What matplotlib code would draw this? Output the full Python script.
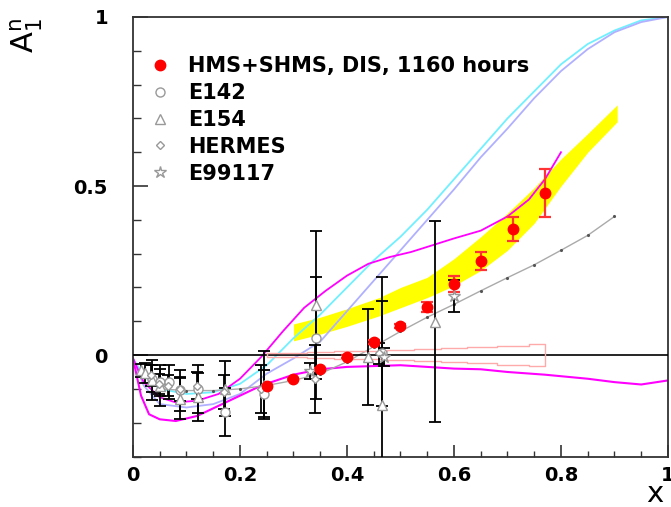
import matplotlib
matplotlib.use("Agg")
import matplotlib.pyplot as plt
from matplotlib.ticker import MultipleLocator, FuncFormatter

# projected HMS+SHMS A1n points
hms_x = [0.25, 0.30, 0.35, 0.40, 0.45, 0.50, 0.55, 0.60, 0.65, 0.71, 0.77]
hms_y = [-0.092, -0.071, -0.042, -0.005, 0.038, 0.086, 0.143, 0.21, 0.279, 0.372, 0.479]
hms_err = [0.004, 0.004, 0.005, 0.005, 0.006, 0.007, 0.015, 0.023, 0.027, 0.036, 0.072]
hms_sys = [0.005, 0.007, 0.009, 0.011, 0.013, 0.015, 0.018, 0.021, 0.024, 0.028, 0.033]

# existing world data
e142_x = [0.035, 0.05, 0.068, 0.087, 0.122, 0.172, 0.244, 0.343, 0.466]
e142_y = [-0.07, -0.08, -0.079, -0.104, -0.10, -0.168, -0.114, 0.05, 0.005]
e142_err = [0.04, 0.04, 0.05, 0.06, 0.07, 0.07, 0.07, 0.18, 0.155]

e154_x = [0.015, 0.022, 0.035, 0.05, 0.087, 0.122, 0.172, 0.244, 0.343, 0.44, 0.466, 0.564]
e154_y = [-0.045, -0.054, -0.074, -0.09, -0.129, -0.124, -0.099, -0.089, 0.148, -0.005, -0.148, 0.099]
e154_err = [0.02, 0.03, 0.06, 0.06, 0.06, 0.07, 0.08, 0.10, 0.218, 0.142, 0.38, 0.297]

hermes_x = [0.033, 0.048, 0.065, 0.087, 0.12, 0.17, 0.24, 0.34, 0.46]
hermes_y = [-0.06, -0.085, -0.09, -0.10, -0.09, -0.11, -0.10, -0.07, 0.005]
hermes_err = [0.03, 0.03, 0.03, 0.035, 0.04, 0.05, 0.07, 0.10, 0.03]

e99117_x = [0.33, 0.47, 0.60]
e99117_y = [-0.048, -0.006, 0.175]
e99117_err = [0.024, 0.027, 0.048]

# prediction band
band_x = [0.30, 0.35, 0.40, 0.46, 0.50, 0.55, 0.60, 0.65, 0.70, 0.75, 0.80, 0.85, 0.905]
band_hi = [0.092, 0.112, 0.137, 0.17, 0.20, 0.23, 0.285, 0.35, 0.42, 0.495, 0.58, 0.655, 0.74]
band_lo = [0.042, 0.062, 0.085, 0.116, 0.14, 0.17, 0.205, 0.25, 0.31, 0.39, 0.50, 0.60, 0.69]

# model curves
curve_x = [0, 0.02, 0.05, 0.1, 0.15, 0.2, 0.25, 0.3, 0.35, 0.4, 0.45, 0.5,
           0.55, 0.6, 0.65, 0.7, 0.75, 0.8, 0.85, 0.9, 0.95, 1.0]
cyan_y = [-0.01, -0.06, -0.10, -0.115, -0.11, -0.085, -0.03, 0.05, 0.12, 0.2, 0.28, 0.35,
          0.43, 0.52, 0.61, 0.70, 0.78, 0.86, 0.92, 0.96, 0.99, 1.0]
lav_y = [-0.01, -0.09, -0.145, -0.155, -0.145, -0.115, -0.055, -0.01, 0.04, 0.13, 0.22, 0.31,
         0.40, 0.49, 0.585, 0.67, 0.76, 0.84, 0.905, 0.955, 0.985, 1.0]

mag1_x = [0, 0.02, 0.05, 0.08, 0.12, 0.16, 0.2, 0.24, 0.28, 0.32, 0.36, 0.40, 0.44,
          0.48, 0.52, 0.56, 0.60, 0.65, 0.70, 0.74, 0.77, 0.80]
mag1_y = [-0.01, -0.08, -0.125, -0.14, -0.135, -0.115, -0.07, -0.005, 0.07, 0.14, 0.19, 0.235,
          0.27, 0.29, 0.305, 0.325, 0.345, 0.368, 0.41, 0.46, 0.52, 0.60]

mag2_x = [0, 0.015, 0.03, 0.05, 0.08, 0.12, 0.18, 0.24, 0.3, 0.35, 0.4, 0.5, 0.6,
          0.65, 0.7, 0.77, 0.85, 0.9, 0.95, 1.0]
mag2_y = [-0.01, -0.12, -0.175, -0.19, -0.195, -0.18, -0.135, -0.09, -0.058, -0.042, -0.035,
          -0.03, -0.04, -0.042, -0.05, -0.058, -0.07, -0.08, -0.087, -0.075]

gray_x = [0.05, 0.1, 0.15, 0.2, 0.25, 0.3, 0.35, 0.4, 0.45, 0.5, 0.55, 0.6, 0.65,
          0.7, 0.75, 0.8, 0.85, 0.9]
gray_y = [-0.1, -0.105, -0.105, -0.1, -0.09, -0.075, -0.055, -0.02, 0.025, 0.07, 0.112,
          0.15, 0.19, 0.229, 0.267, 0.31, 0.354, 0.41]

fig = plt.figure(figsize=(6.71, 5.07), dpi=100)
ax = fig.add_axes([0.1982, 0.0996, 0.7973, 0.8669])

ax.fill_between(band_x, band_lo, band_hi, color="#ffff00", lw=0, zorder=1)

ax.plot(curve_x, cyan_y, color="#70f0ff", lw=1.3, zorder=2)
ax.plot(curve_x, lav_y, color="#b0b0ff", lw=1.3, zorder=2)
ax.plot(mag1_x, mag1_y, color="#ff00ff", lw=1.3, zorder=2)
ax.plot(mag2_x, mag2_y, color="#ff00ff", lw=1.5, zorder=2)
ax.plot(gray_x, gray_y, color="#aaaaaa", lw=1.0, marker=".", ms=2.5, mfc="#555555",
        mec="#555555", zorder=2)

ax.axhline(0, color="black", lw=1.2, zorder=3)

# systematic error outline
sx = hms_x + hms_x[::-1] + [hms_x[0]]
sy = hms_sys + [-s for s in hms_sys[::-1]] + [hms_sys[0]]
ax.plot(sx, sy, color="#ffaaaa", lw=1.0, drawstyle="steps-mid", zorder=3)

ebkw = dict(fmt="none", ecolor="black", elinewidth=1.3, capsize=4, capthick=1.3, zorder=4)
ax.errorbar(e142_x, e142_y, yerr=e142_err, **ebkw)
ax.errorbar(e154_x, e154_y, yerr=e154_err, **ebkw)
ax.errorbar(hermes_x, hermes_y, yerr=hermes_err, **ebkw)
ax.errorbar(e99117_x, e99117_y, yerr=e99117_err, **ebkw)
ax.errorbar(hms_x, hms_y, yerr=hms_err, fmt="none", ecolor="#ff3333", elinewidth=1.6,
            capsize=4.5, capthick=1.6, zorder=5)

mk = dict(ls="none", mfc="white", mec="#999999", mew=1.0, zorder=5)
ax.plot(hms_x, hms_y, "o", color="#ff0000", ms=7.5, mec="#ff0000", ls="none", zorder=6,
        label="HMS+SHMS, DIS, 1160 hours")
ax.plot(e142_x, e142_y, marker="o", ms=6.5, label="E142", **mk)
ax.plot(e154_x, e154_y, marker="^", ms=6.5, label="E154", **mk)
ax.plot(hermes_x, hermes_y, marker="D", ms=4.5, label="HERMES", **mk)
ax.plot(e99117_x, e99117_y, marker="*", ms=9, label="E99117", **mk)

ax.set_xlim(0, 1)
ax.set_ylim(-0.3, 1)
ax.xaxis.set_major_locator(MultipleLocator(0.2))
ax.xaxis.set_minor_locator(MultipleLocator(0.05))
ax.yaxis.set_major_locator(MultipleLocator(0.5))
ax.yaxis.set_minor_locator(MultipleLocator(0.1))
fmt = FuncFormatter(lambda v, p: "%g" % round(v, 3))
ax.xaxis.set_major_formatter(fmt)
ax.yaxis.set_major_formatter(fmt)
ax.tick_params(which="both", direction="in", top=False, right=False, colors="#333333")
ax.tick_params(axis="x", which="major", length=9, width=1.2, pad=7, labelsize=14,
               labelcolor="black")
ax.tick_params(axis="x", which="minor", length=4, width=1.0)
ax.tick_params(axis="y", which="major", length=11, width=1.2, pad=18, labelsize=14,
               labelcolor="black")
ax.tick_params(axis="y", which="minor", length=5.5, width=1.0)
for lab in ax.get_xticklabels() + ax.get_yticklabels():
    lab.set_fontweight("bold")
for sp in ax.spines.values():
    sp.set_color("#333333")
    sp.set_linewidth(1.3)

leg = ax.legend(loc="upper left", bbox_to_anchor=(0.012, 0.93), frameon=False,
                handlelength=1.2, handletextpad=0.72, labelspacing=0.33, borderaxespad=0,
                prop={"family": "DejaVu Sans", "weight": "bold", "size": 15})

fig.text(0.012, 0.965, r"$\mathregular{A_1^n}$", rotation=90, fontsize=22,
         va="top", ha="left")
fig.text(0.988, 0.01, "x", fontsize=21, ha="right", va="baseline")

fig.savefig("out.png", dpi=100)
